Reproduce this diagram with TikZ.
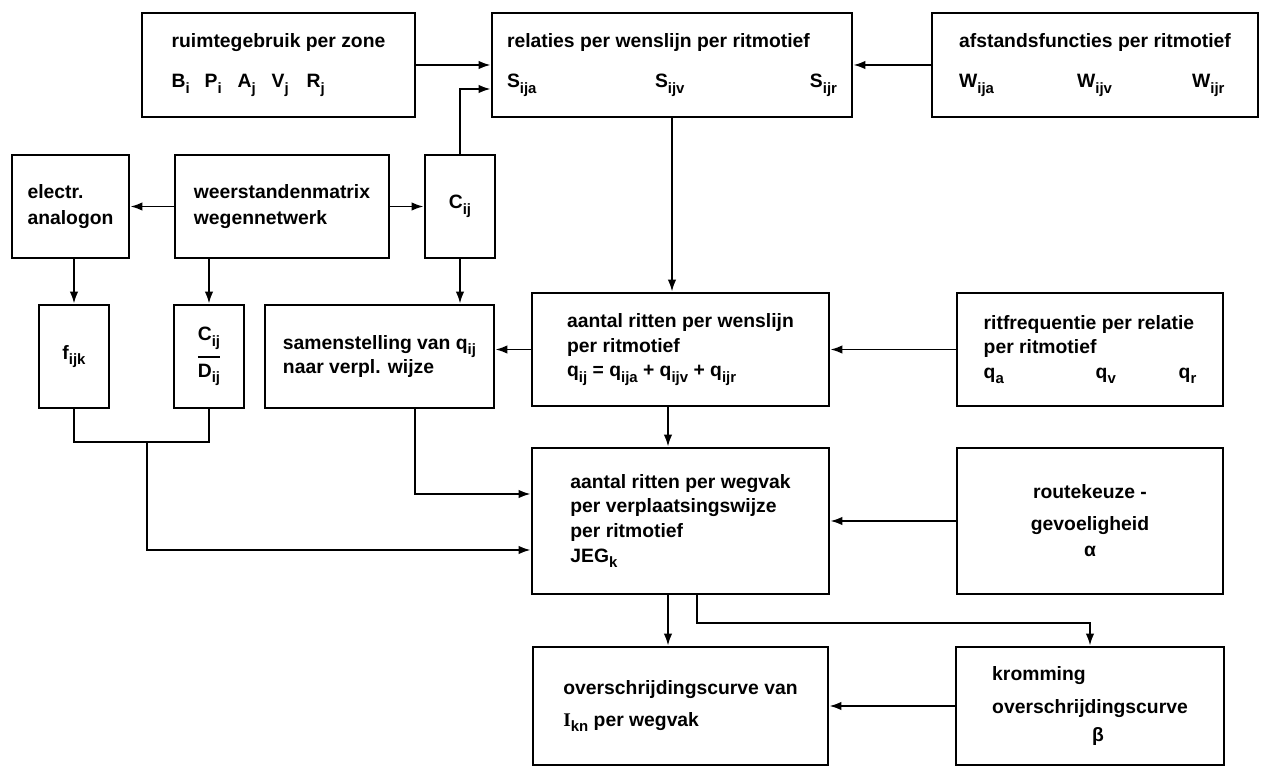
\documentclass[tikz,border=0pt]{standalone}
\usepackage{amsmath}
\usepackage{fontspec}
\setmainfont{Liberation Sans}
\newfontfamily\serifI{Liberation Serif}
\usetikzlibrary{arrows.meta,calc,positioning}
\newcommand{\lo}[1]{\raisebox{-0.55ex}{\fontsize{8.5}{9}\selectfont #1}}

\begin{document}
\begin{tikzpicture}[
  font=\bfseries\fontsize{11}{14}\selectfont,
  blk/.style={draw, line width=1.6pt, align=left, inner sep=0pt},
  pf/.style={-{Latex[length=2.4mm,width=1.7mm]}, line width=1.1pt},
  ln/.style={line width=1.1pt}
]
\useasboundingbox (0,0) rectangle (25.3,15.32);

% bovenste rij
\node[blk, minimum width=5.46cm, minimum height=2.08cm] (ruim) at (5.57,14.02)
  {ruimtegebruik per zone\\[9pt] \makebox[0.66cm][l]{B\lo{i}}\makebox[0.66cm][l]{P\lo{i}}\makebox[0.68cm][l]{A\lo{j}}\makebox[0.7cm][l]{V\lo{j}}R\lo{j}};
\node[blk, minimum width=7.2cm, minimum height=2.08cm] (rel) at (13.44,14.02)
  {relaties per wenslijn per ritmotief\\[9pt] \makebox[2.96cm][l]{S\lo{ija}}\makebox[3.1cm][l]{S\lo{ijv}}S\lo{ijr}};
\node[blk, minimum width=6.52cm, minimum height=2.08cm] (afst) at (21.9,14.02)
  {afstandsfuncties per ritmotief\\[9pt] \makebox[2.36cm][l]{W\lo{ija}}\makebox[2.3cm][l]{W\lo{ijv}}W\lo{ijr}};

% wegennetwerk
\node[blk, minimum width=2.34cm, minimum height=2.06cm] (elec) at (1.41,11.19) {electr.\\[1pt]analogon};
\node[blk, minimum width=4.28cm, minimum height=2.06cm] (weer) at (5.64,11.19) {weerstandenmatrix\\[1pt]wegennetwerk};
\node[blk, minimum width=1.4cm, minimum height=2.06cm] (cij) at (9.2,11.19) {C\lo{ij}};

\node[blk, minimum width=1.4cm, minimum height=2.06cm] (fijk) at (1.48,8.19) {f\lo{ijk}};
\node[blk, minimum width=1.4cm, minimum height=2.06cm] (cd) at (4.18,8.19)
  {$\genfrac{}{}{1.2pt}{0}{\mbox{C\lo{ij}}}{\mbox{D\lo{ij}}}$};
\node[blk, minimum width=4.58cm, minimum height=2.06cm] (sam) at (7.59,8.19)
  {samenstelling van q\lo{ij}\\naar verpl. wijze};

\draw[pf] (ruim.east) -- (rel.west);
\draw[pf] (afst.west) -- (rel.east);
\draw[pf] (cij.north) |- ([yshift=-0.48cm]rel.west);
\draw[pf] (weer.west) -- (elec.east);
\draw[pf] (weer.east) -- (cij.west);
\draw[pf] (elec.south -| fijk.north) -- (fijk.north);
\draw[pf] (weer.south -| cd.north) -- (cd.north);
\draw[pf] (cij.south) -- (cij.south |- sam.north);

% ritten
\node[blk, minimum width=5.94cm, minimum height=2.26cm] (wens) at (13.61,8.33)
  {aantal ritten per wenslijn\\per ritmotief\\q\lo{ij} = q\lo{ija} + q\lo{ijv} + q\lo{ijr}};
\node[blk, minimum width=5.32cm, minimum height=2.26cm] (freq) at (21.8,8.33)
  {ritfrequentie per relatie\\per ritmotief\\ \makebox[2.24cm][l]{q\lo{a}}\makebox[1.66cm][l]{q\lo{v}}q\lo{r}};
\node[blk, minimum width=5.94cm, minimum height=2.92cm] (wegv) at (13.61,4.9)
  {aantal ritten per wegvak\\per verplaatsingswijze\\per ritmotief\\JEG\lo{k}};
\node[blk, align=center, minimum width=5.32cm, minimum height=2.92cm] (route) at (21.8,4.9)
  {routekeuze -\\[4pt]gevoeligheid\\[1pt]α};

\draw[pf] (rel.south) -- (rel.south |- wens.north);
\draw[pf] (wens.west) -- (wens.west -| sam.east);
\draw[pf] (freq.west) -- (wens.east);
\draw[pf] ([xshift=-0.25cm]wens.south) -- ([xshift=-0.25cm]wens.south |- wegv.north);
\draw[pf] (route.west) -- (wegv.east);
\draw[pf] ([xshift=0.71cm]sam.south) |- ([yshift=0.54cm]wegv.west);

\coordinate (jn) at (2.94,6.48);
\draw[ln] (fijk.south) |- (jn) -| (cd.south);
\draw[pf] (jn) |- ([yshift=-0.58cm]wegv.west);

% overschrijding
\node[blk, minimum width=5.9cm, minimum height=2.36cm] (over) at (13.61,1.2)
  {overschrijdingscurve van\\[4pt]{\serifI I}\lo{kn} per wegvak};
\node[blk, minimum width=5.36cm, minimum height=2.36cm] (krom) at (21.8,1.2)
  {kromming\\[5pt]overschrijdingscurve\\[2pt] \hspace*{2.0cm}β};

\draw[pf] ([xshift=-0.25cm]wegv.south) -- ([xshift=-0.25cm]wegv.south |- over.north);
\draw[pf] ([xshift=0.33cm]wegv.south) -- ++(0,-0.56) -| (krom.north);
\draw[pf] (krom.west) -- (krom.west -| over.east);

\end{tikzpicture}
\end{document}
